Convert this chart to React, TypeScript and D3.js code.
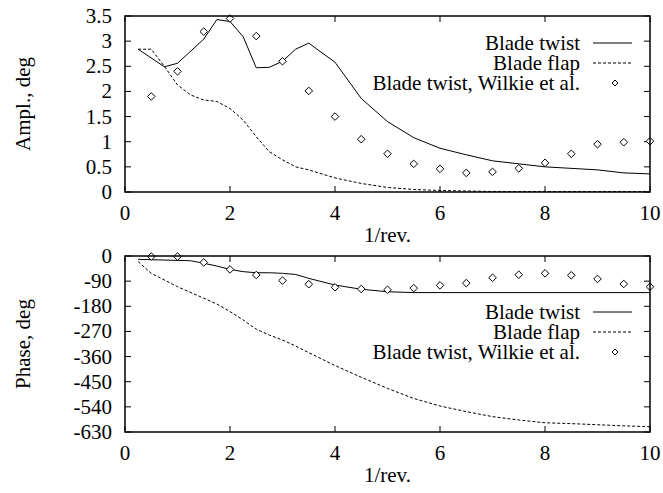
import React, { useEffect, useRef } from 'react';
import * as d3 from 'd3';

// amplitude panel
const ampTwistX = [0.25, 0.75, 1.0, 1.5, 1.75, 2.0, 2.25, 2.5, 2.75, 3.0, 3.25, 3.5, 4.0, 4.5, 5.0, 5.5, 6.0, 6.5, 7.0, 7.5, 8.0, 9.0, 9.5, 10];
const ampTwistY = [2.84, 2.49, 2.56, 3.04, 3.43, 3.39, 3.09, 2.47, 2.48, 2.6, 2.84, 2.96, 2.58, 1.86, 1.4, 1.08, 0.87, 0.74, 0.62, 0.56, 0.5, 0.44, 0.38, 0.36];
const ampFlapX = [0.25, 0.5, 0.75, 1.0, 1.25, 1.5, 1.75, 2.0, 2.25, 2.5, 2.75, 3.0, 3.25, 3.5, 4.0, 4.5, 5.0, 5.5, 6.0, 7.0, 8.0, 10];
const ampFlapY = [2.84, 2.84, 2.5, 2.13, 1.93, 1.83, 1.8, 1.66, 1.43, 1.1, 0.8, 0.64, 0.5, 0.44, 0.28, 0.17, 0.09, 0.05, 0.03, 0.01, 0.01, 0.01];

// phase panel
const phTwistX = [0.25, 1.25, 1.5, 1.75, 2.0, 2.25, 2.5, 2.75, 3.0, 3.25, 3.5, 4.0, 4.5, 5.0, 5.5, 10];
const phTwistY = [-12, -17, -26, -36, -48, -56, -60, -60, -62, -66, -80, -104, -119, -128, -131, -131];
const phFlapX = [0.25, 0.5, 1.0, 1.5, 1.75, 2.0, 2.25, 2.5, 2.75, 3.0, 3.25, 3.5, 4.0, 4.5, 5.0, 5.5, 6.0, 6.5, 7.0, 7.5, 8.0, 8.5, 9.0, 9.5, 10];
const phFlapY = [-20, -62, -110, -151, -172, -199, -229, -262, -283, -301, -322, -346, -392, -434, -474, -510, -537, -557, -575, -587, -597, -600, -604, -608, -611];

// Wilkie et al. measurements
const wilkieX = [0.5, 1, 1.5, 2, 2.5, 3, 3.5, 4, 4.5, 5, 5.5, 6, 6.5, 7, 7.5, 8, 8.5, 9, 9.5, 10];
const wilkieAmp = [1.9, 2.4, 3.19, 3.45, 3.1, 2.6, 2.01, 1.5, 1.05, 0.76, 0.56, 0.46, 0.38, 0.4, 0.47, 0.58, 0.76, 0.95, 0.99, 1.01];
const wilkiePhase = [-2, -2, -23, -48, -68, -88, -101, -112, -118, -121, -115, -105, -97, -78, -67, -62, -69, -82, -100, -110];

const xTicks = [0, 2, 4, 6, 8, 10];
const ampTicks = [0, 0.5, 1, 1.5, 2, 2.5, 3, 3.5];
const phaseTicks = [0, -90, -180, -270, -360, -450, -540, -630];
const legendLabels = ['Blade twist', 'Blade flap', 'Blade twist, Wilkie et al.'];

const FONT = '"Liberation Serif", "Times New Roman", serif';
const FS = 21;

export default function App() {
  const ref = useRef<SVGSVGElement>(null);

  useEffect(() => {
    const svg = d3.select(ref.current);
    svg.selectAll('*').remove();

    const left = 125, right = 650;
    const x = d3.scaleLinear().domain([0, 10]).range([left, right]);

    const diamond = (cx: number, cy: number, r: number) =>
      `M${cx},${cy - r}L${cx + r},${cy}L${cx},${cy + r}L${cx - r},${cy}Z`;

    function panel(top: number, bottom: number, domain: number[], ticks: number[], ylab: string,
                   lines: { xs: number[]; ys: number[]; dash: string | null }[],
                   pts: number[], legendY: number) {
      const y = d3.scaleLinear().domain(domain).range([bottom, top]);
      const g = svg.append('g');
      const tl = 6;

      // ticks on all four sides, pointing inward
      ticks.forEach(t => {
        g.append('line').attr('x1', left).attr('x2', left + tl).attr('y1', y(t)).attr('y2', y(t)).attr('stroke', '#000');
        g.append('line').attr('x1', right).attr('x2', right - tl).attr('y1', y(t)).attr('y2', y(t)).attr('stroke', '#000');
        g.append('text').attr('x', left - 13).attr('y', y(t)).attr('dy', '0.33em')
          .attr('text-anchor', 'end').attr('font-family', FONT).attr('font-size', FS).text(String(t));
      });
      xTicks.forEach(t => {
        g.append('line').attr('x1', x(t)).attr('x2', x(t)).attr('y1', bottom).attr('y2', bottom - tl).attr('stroke', '#000');
        g.append('line').attr('x1', x(t)).attr('x2', x(t)).attr('y1', top).attr('y2', top + tl).attr('stroke', '#000');
        g.append('text').attr('x', x(t)).attr('y', bottom + 28)
          .attr('text-anchor', 'middle').attr('font-family', FONT).attr('font-size', FS).text(t);
      });

      g.append('text').attr('x', (left + right) / 2).attr('y', bottom + 50)
        .attr('text-anchor', 'middle').attr('font-family', FONT).attr('font-size', FS).text('1/rev.');
      g.append('text')
        .attr('transform', `translate(23,${(top + bottom) / 2}) rotate(-90)`)
        .attr('dy', '0.35em').attr('text-anchor', 'middle')
        .attr('font-family', FONT).attr('font-size', FS).text(ylab);

      const line = d3.line<[number, number]>().x(d => x(d[0])).y(d => y(d[1]));
      lines.forEach(l => {
        g.append('path')
          .attr('d', line(l.xs.map((v, i) => [v, l.ys[i]] as [number, number])))
          .attr('fill', 'none').attr('stroke', '#000').attr('stroke-width', 1)
          .attr('stroke-dasharray', l.dash);
      });

      wilkieX.forEach((v, i) => {
        g.append('path').attr('d', diamond(x(v), y(pts[i]), 3.8))
          .attr('fill', '#fff').attr('stroke', '#000').attr('stroke-width', 1);
      });

      // legend
      legendLabels.forEach((lab, i) => {
        const ly = legendY + i * 20;
        g.append('text').attr('x', 580).attr('y', ly).attr('dy', '0.33em')
          .attr('text-anchor', 'end').attr('font-family', FONT).attr('font-size', FS).text(lab);
        if (i < 2) {
          g.append('line').attr('x1', 593).attr('x2', 632).attr('y1', ly).attr('y2', ly)
            .attr('stroke', '#000').attr('stroke-dasharray', i === 1 ? '3,2' : null);
        } else {
          g.append('path').attr('d', diamond(615, ly, 3))
            .attr('fill', '#fff').attr('stroke', '#000');
        }
      });

      g.append('rect').attr('x', left).attr('y', top).attr('width', right - left).attr('height', bottom - top)
        .attr('fill', 'none').attr('stroke', '#000').attr('stroke-width', 1.5);
    }

    panel(16, 192, [0, 3.5], ampTicks, 'Ampl., deg',
      [{ xs: ampTwistX, ys: ampTwistY, dash: null }, { xs: ampFlapX, ys: ampFlapY, dash: '3,2' }],
      wilkieAmp, 43);
    panel(256, 432, [-630, 0], phaseTicks, 'Phase, deg',
      [{ xs: phTwistX, ys: phTwistY, dash: null }, { xs: phFlapX, ys: phFlapY, dash: '3,2' }],
      wilkiePhase, 312);
  }, []);

  return (
    <svg ref={ref} width={663} height={493}
      style={{ position: 'absolute', left: 0, top: 0, background: '#fff' }} />
  );
}
